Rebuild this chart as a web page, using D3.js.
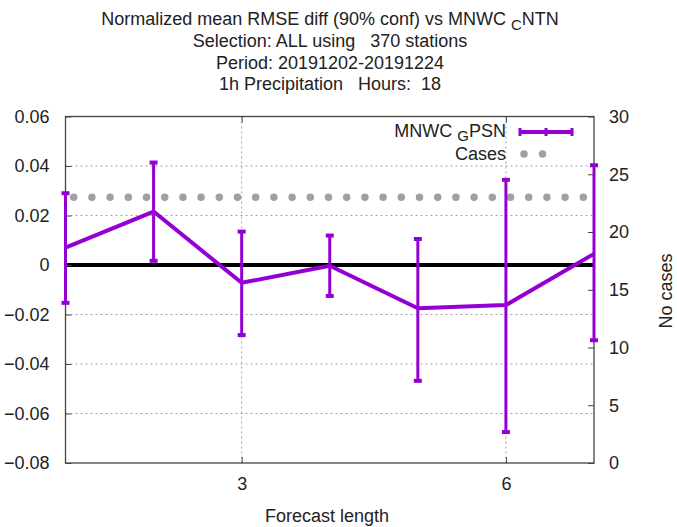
<!DOCTYPE html>
<html>
<head>
<meta charset="utf-8">
<script src="https://cdn.jsdelivr.net/npm/d3@7"></script>
<style>
  body { margin: 0; background: #fff; }
  text { font-family: "Liberation Sans", Arial, sans-serif; fill: #222; }
</style>
</head>
<body>
<svg id="chart"></svg>
<script>
// Forecast lengths (hours) and normalized RMSE diff with 90% confidence bounds
const leadTimes = [1, 2, 3, 4, 5, 6, 7];
const meanDiff = [0.0070, 0.0216, -0.0072, -0.0003, -0.0175, -0.0162, 0.0045];
const lowerBound = [-0.0153, 0.0017, -0.0283, -0.0125, -0.0468, -0.0675, -0.0304];
const upperBound = [0.0290, 0.0414, 0.0135, 0.0119, 0.0105, 0.0344, 0.0403];
const cases = [23, 23, 23, 23, 23, 23, 23];

const yTicks = [-0.08, -0.06, -0.04, -0.02, 0, 0.02, 0.04, 0.06];
const y2Ticks = [0, 5, 10, 15, 20, 25, 30];
const xTicks = [3, 6];
const titleLines = [
  "Selection: ALL using   370 stations",
  "Period: 20191202-20191224",
  "1h Precipitation   Hours:  18"
];

const width = 677;
const height = 527;
const margin = { top: 116.5, right: 83, bottom: 64, left: 65.5 };
const purple = "#9400d3";
const fs = 18;

const svg = d3.select("#chart")
  .attr("width", width)
  .attr("height", height);

const x = d3.scaleLinear().domain([1, 7]).range([margin.left, width - margin.right]);
const y = d3.scaleLinear().domain([-0.08, 0.06]).range([height - margin.bottom, margin.top]);
const y2 = d3.scaleLinear().domain([0, 30]).range([height - margin.bottom, margin.top]);

const x0 = margin.left, x1 = width - margin.right;
const yTop = margin.top, yBot = height - margin.bottom;

// Grid
svg.append("g")
  .selectAll("line")
  .data(yTicks.filter(d => d !== 0 && d !== -0.08 && d !== 0.06))
  .join("line")
  .attr("x1", x0).attr("x2", x1)
  .attr("y1", d => y(d)).attr("y2", d => y(d))
  .attr("stroke", "#a0a0a0").attr("stroke-width", 1).attr("stroke-dasharray", "2,3");

svg.append("g")
  .selectAll("line")
  .data(xTicks)
  .join("line")
  .attr("x1", d => x(d)).attr("x2", d => x(d))
  .attr("y1", yTop).attr("y2", yBot)
  .attr("stroke", "#a0a0a0").attr("stroke-width", 1).attr("stroke-dasharray", "2,3");

// Zero line
svg.append("line")
  .attr("x1", x0).attr("x2", x1)
  .attr("y1", y(0)).attr("y2", y(0))
  .attr("stroke", "#000").attr("stroke-width", 4);

// Border
svg.append("rect")
  .attr("x", x0).attr("y", yTop)
  .attr("width", x1 - x0).attr("height", yBot - yTop)
  .attr("fill", "none").attr("stroke", "#444").attr("stroke-width", 1.3);

// Axis ticks (inward, gnuplot style)
const leftAxis = svg.append("g")
  .attr("transform", `translate(${x0},0)`)
  .call(d3.axisLeft(y).tickValues(yTicks).tickSize(-6).tickPadding(16)
    .tickFormat(d => d === 0 ? "0" : d3.format(".2f")(d)));
const rightAxis = svg.append("g")
  .attr("transform", `translate(${x1},0)`)
  .call(d3.axisRight(y2).tickValues(y2Ticks).tickSize(-6).tickPadding(15));
const bottomAxis = svg.append("g")
  .attr("transform", `translate(0,${yBot})`)
  .call(d3.axisBottom(x).tickValues(xTicks).tickSize(-6).tickPadding(14)
    .tickFormat(d3.format("d")));
const topAxis = svg.append("g")
  .attr("transform", `translate(0,${yTop})`)
  .call(d3.axisTop(x).tickValues(xTicks).tickSize(-6).tickFormat(""));

[leftAxis, rightAxis, bottomAxis, topAxis].forEach(g => {
  g.select(".domain").remove();
  g.selectAll(".tick line").attr("stroke", "#444");
  g.selectAll(".tick text").attr("font-size", fs).attr("fill", "#222")
    .attr("font-family", "Liberation Sans, Arial, sans-serif");
});

// Cases (dotted line on y2)
const casesLine = d3.line().x((d, i) => x(leadTimes[i])).y(d => y2(d));
svg.append("path")
  .datum(cases)
  .attr("d", casesLine)
  .attr("fill", "none")
  .attr("stroke", "#a0a0a0")
  .attr("stroke-width", 7.5)
  .attr("stroke-linecap", "round")
  .attr("stroke-dasharray", "0,18.2")
  .attr("stroke-dashoffset", 10);

// Mean diff line
const line = d3.line().x((d, i) => x(leadTimes[i])).y(d => y(d));
svg.append("path")
  .datum(meanDiff)
  .attr("d", line)
  .attr("fill", "none")
  .attr("stroke", purple)
  .attr("stroke-width", 4)
  .attr("stroke-linejoin", "round");

// Error bars
const bars = svg.append("g").selectAll("g")
  .data(leadTimes.map((t, i) => ({ t, lo: lowerBound[i], hi: upperBound[i] })))
  .join("g");
bars.append("line")
  .attr("x1", d => x(d.t)).attr("x2", d => x(d.t))
  .attr("y1", d => y(d.lo)).attr("y2", d => y(d.hi))
  .attr("stroke", purple).attr("stroke-width", 3);
bars.append("line")
  .attr("x1", d => x(d.t) - 4).attr("x2", d => x(d.t) + 4)
  .attr("y1", d => y(d.lo)).attr("y2", d => y(d.lo))
  .attr("stroke", purple).attr("stroke-width", 4);
bars.append("line")
  .attr("x1", d => x(d.t) - 4).attr("x2", d => x(d.t) + 4)
  .attr("y1", d => y(d.hi)).attr("y2", d => y(d.hi))
  .attr("stroke", purple).attr("stroke-width", 4);

// Legend
const legend = svg.append("g");
const lt = legend.append("text")
  .attr("x", 506).attr("y", 137)
  .attr("text-anchor", "end").attr("font-size", fs);
lt.append("tspan").text("MNWC ");
lt.append("tspan").attr("dy", 4).attr("font-size", 15).text("G");
lt.append("tspan").attr("dy", -4).text("PSN");
legend.append("line")
  .attr("x1", 520).attr("x2", 572).attr("y1", 132).attr("y2", 132)
  .attr("stroke", purple).attr("stroke-width", 4);
[520, 546, 572].forEach(px => {
  legend.append("line")
    .attr("x1", px).attr("x2", px).attr("y1", 128).attr("y2", 136)
    .attr("stroke", purple).attr("stroke-width", 3);
});
legend.append("text")
  .attr("x", 506).attr("y", 160)
  .attr("text-anchor", "end").attr("font-size", fs).text("Cases");
legend.append("line")
  .attr("x1", 524).attr("x2", 561).attr("y1", 154).attr("y2", 154)
  .attr("stroke", "#a0a0a0").attr("stroke-width", 7.5)
  .attr("stroke-linecap", "round").attr("stroke-dasharray", "0,18.5");

// Titles
const t1 = svg.append("text")
  .attr("x", 330).attr("y", 25)
  .attr("text-anchor", "middle").attr("font-size", fs);
t1.append("tspan").text("Normalized mean RMSE diff (90% conf) vs MNWC ");
t1.append("tspan").attr("dy", 5).attr("font-size", 15).text("C");
t1.append("tspan").attr("dy", -5).text("NTN");
titleLines.forEach((s, i) => {
  svg.append("text")
    .attr("x", 330).attr("y", 47 + i * 21.5)
    .attr("text-anchor", "middle").attr("font-size", fs)
    .attr("xml:space", "preserve")
    .style("white-space", "pre")
    .text(s);
});

// Axis labels
svg.append("text")
  .attr("x", 327).attr("y", 522)
  .attr("text-anchor", "middle").attr("font-size", fs)
  .text("Forecast length");
svg.append("text")
  .attr("transform", "translate(672,291) rotate(-90)")
  .attr("text-anchor", "middle").attr("font-size", fs)
  .text("No cases");
</script>
</body>
</html>
